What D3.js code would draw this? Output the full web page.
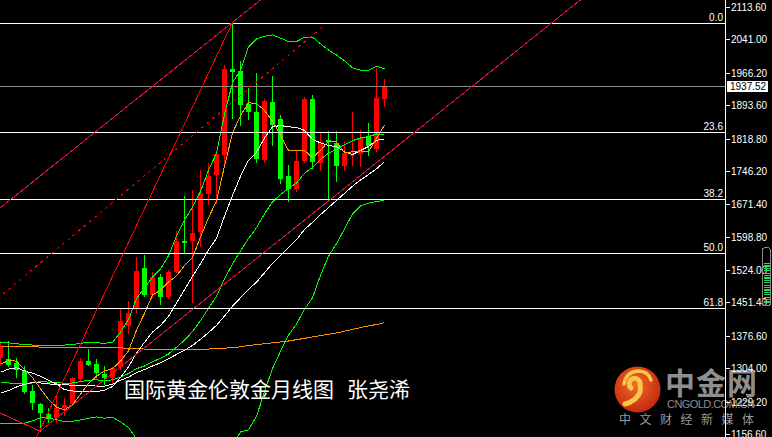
<!DOCTYPE html>
<html><head><meta charset="utf-8">
<script src="https://cdn.jsdelivr.net/npm/d3@7"></script>
<style>html,body{margin:0;padding:0;background:#000;overflow:hidden}svg{display:block}</style>
</head><body>
<svg id="c" width="772" height="437"></svg>
<script>
// ---- data (monthly XAUUSD, Mar 2018 .. Mar 2022) ----
const months = ["2018-03","2018-04","2018-05","2018-06","2018-07","2018-08","2018-09","2018-10","2018-11","2018-12",
"2019-01","2019-02","2019-03","2019-04","2019-05","2019-06","2019-07","2019-08","2019-09","2019-10","2019-11","2019-12",
"2020-01","2020-02","2020-03","2020-04","2020-05","2020-06","2020-07","2020-08","2020-09","2020-10","2020-11","2020-12",
"2021-01","2021-02","2021-03","2021-04","2021-05","2021-06","2021-07","2021-08","2021-09","2021-10","2021-11","2021-12",
"2022-01","2022-02","2022-03"];
const open  = [1327,1325,1315,1298,1252,1223,1202,1192,1215,1222,1281,1321,1313,1292,1283,1305,1398,1436,1528,1467,1508,1464,1520,1589,1588,1609,1694,1736,1782,1974,1970,1897,1878,1772,1900,1862,1735,1706,1767,1907,1764,1815,1809,1758,1779,1786,1824,1795,1909];
const high  = [1366,1366,1327,1309,1266,1225,1214,1243,1238,1285,1326,1347,1325,1310,1306,1439,1455,1553,1557,1519,1516,1525,1611,1689,1703,1748,1765,1789,1984,2077,1992,1933,1966,1907,1960,1872,1759,1790,1913,1917,1834,1836,1836,1810,1878,1838,1853,1976,1952];
const low   = [1310,1306,1283,1246,1211,1160,1181,1182,1196,1221,1276,1310,1281,1266,1267,1301,1380,1427,1464,1461,1445,1459,1517,1563,1451,1576,1670,1671,1757,1863,1848,1860,1764,1765,1803,1717,1677,1698,1765,1750,1745,1683,1722,1745,1757,1754,1780,1789,1890];
const close = [1354,1312,1300,1252,1224,1202,1192,1215,1222,1281,1321,1313,1292,1283,1305,1409,1427,1522,1468,1508,1464,1520,1589,1585,1607,1696,1735,1784,1975,1968,1893,1879,1772,1904,1849,1728,1706,1768,1907,1766,1812,1811,1758,1787,1782,1821,1801,1910,1937.52];

// indicator lines
const ma5   = [1313,1321,1320,1301,1283,1258,1234,1217,1211,1222,1246,1270,1286,1298,1303,1320,1343,1389,1427,1468,1479,1497,1511,1534,1552,1598,1641,1679,1757,1831,1870,1899,1897,1882,1858,1826,1792,1791,1792,1776,1792,1813,1811,1787,1789,1791,1789,1819,1849];
const ma10  = [1295,1302,1305,1298,1293,1286,1277,1269,1256,1253,1252,1252,1251,1255,1263,1283,1307,1338,1362,1385,1400,1420,1450,1480,1510,1538,1569,1595,1645,1691,1734,1770,1788,1820,1845,1848,1845,1844,1837,1817,1809,1803,1801,1789,1783,1792,1801,1815,1818];
const ma30  = [1248,1254,1262,1268,1272,1271,1269,1267,1267,1266,1265,1265,1264,1264,1268,1277,1284,1294,1301,1309,1316,1325,1335,1344,1355,1369,1384,1400,1421,1443,1462,1481,1497,1518,1539,1557,1574,1592,1615,1631,1648,1664,1680,1696,1712,1726,1738,1751,1767];
const maLong= [1353,1353,1352.5,1352,1352,1351.5,1351.5,1351,1351,1350.5,1350.5,1350.5,1350,1350,1350,1349.5,1349,1348,1347,1346,1345.5,1345,1345,1345.5,1346,1346.5,1347,1348,1349,1350,1352,1355,1357,1359,1361,1363,1365,1368,1371,1374,1377,1380,1383,1387,1391,1395,1399,1402,1406];
const bbMid = [1271,1271,1270,1269,1271,1274,1273,1272,1270,1271,1274,1277,1278,1276,1278,1284,1292,1303,1309,1319,1326,1336,1351,1367,1386,1411,1438,1466,1504,1538,1567,1595,1619,1650,1677,1693,1707,1719,1741,1754,1772,1786,1795,1805,1814,1820,1823,1829,1828];
const bbUp  = [1362,1361,1359,1357,1356,1355,1354,1355,1356,1357,1360,1362,1361,1360,1362,1385,1413,1460,1484,1508,1526,1556,1600,1636,1665,1700,1748,1786,1873,1944,1972,2024,2042,2048,2051,2044,2036,2036,2046,2046,2031,2017,2006,1993,1977,1972,1972,1981,1975];
const bbLow = [1180,1181,1181,1181,1186,1193,1192,1189,1184,1185,1188,1192,1195,1192,1194,1184,1171,1146,1134,1130,1126,1116,1101,1099,1107,1122,1128,1146,1135,1132,1161,1166,1196,1252,1303,1342,1378,1403,1436,1462,1512,1555,1583,1616,1650,1668,1674,1678,1680];

const priceTicks = [2113.60,2041.00,1966.20,1893.60,1818.80,1746.20,1671.40,1598.80,1524.00,1451.40,1376.60,1304.00,1229.20,1156.60];
const fibLevels = [0, 23.6, 38.2, 50.0, 61.8];
const fibLabels = ["0.0","23.6","38.2","50.0","61.8"];
const fibHigh = 2077, fibLow = 1046;
const lastPrice = 1937.52;
// trend lines: [barIndex, price] anchors
const trendLines = [
  {a:[0,1663],     b:[29.06,2079], from:-5, to:40,   color:"#dc143c", dash:null},
  {a:[4,1128],     b:[29.06,2079], from:3,  to:29.06,color:"#ff0000", dash:null},
  {a:[0,1464.4],   b:[40.6,2073.3],from:-5, to:40.6, color:"#ff0000", dash:"3,4"},
  {a:[5,1163],     b:[53.75,1860.4],from:5, to:80,   color:"#dc143c", dash:null},
  {a:[0,1203.7],   b:[5,1163],     from:-3, to:5,    color:"#ff1020", dash:null}
];
const titleParts = ["国际黄金伦敦金月线图", "张尧浠"];

// ---- drawing ----
const svg = d3.select("#c");
const plotW = 725, H = 437;
const x = d3.scaleLinear().domain([0, 90.625]).range([0, plotW]);
const y = d3.scaleLinear().domain([1156.6, 2113.6]).range([434, 7]);

svg.append("rect").attr("width",772).attr("height",H).attr("fill","#000");
const defs = svg.append("defs");
defs.append("clipPath").attr("id","plot").append("rect").attr("x",0).attr("y",0).attr("width",plotW).attr("height",H);
const g = svg.append("g").attr("clip-path","url(#plot)");

// candles
const idx = d3.range(close.length);
const up = i => close[i] >= open[i];
const cg = g.append("g").attr("shape-rendering","crispEdges");
cg.selectAll("line.w").data(idx).join("line")
  .attr("x1",i=>Math.round(x(i))+0.5).attr("x2",i=>Math.round(x(i))+0.5)
  .attr("y1",i=>y(high[i])).attr("y2",i=>y(low[i]))
  .attr("stroke",i=>up(i)?"#ff0000":"#00ff00").attr("stroke-width",1);
cg.selectAll("rect.b").data(idx).join("rect")
  .attr("x",i=>Math.round(x(i))-2).attr("width",5)
  .attr("y",i=>Math.round(y(Math.max(open[i],close[i]))))
  .attr("height",i=>Math.max(1,Math.round(Math.abs(y(open[i])-y(close[i])))))
  .attr("fill",i=>up(i)?"#ff0000":"#00ff00");

// indicator lines
const lineGen = arr => d3.line().x((d,i)=>Math.round(x(i))+0.5).y(d=>y(d))(arr);
const ind = [
  {d:maLong,c:"#ff8c00"},
  {d:bbUp,c:"#00ff00"},{d:bbMid,c:"#00ff00"},{d:bbLow,c:"#00ff00"},
  {d:ma30,c:"#ffffff"},{d:ma10,c:"#ffffff"},
  {d:ma5,c:"#ffa500"}
];
g.append("g").selectAll("path").data(ind).join("path")
  .attr("d",s=>lineGen(s.d)).attr("fill","none").attr("stroke",s=>s.c).attr("stroke-width",1)
  .attr("shape-rendering","crispEdges");

// fib levels + current price line
const fg = g.append("g").attr("shape-rendering","crispEdges");
const fibPrice = l => fibHigh - (fibHigh - fibLow) * l / 100;
fg.append("line").attr("x1",0).attr("x2",plotW)
  .attr("y1",Math.round(y(lastPrice))+0.5).attr("y2",Math.round(y(lastPrice))+0.5)
  .attr("stroke","#8c8c8c").attr("stroke-width",1);
fg.selectAll("line.f").data(fibLevels).join("line")
  .attr("x1",0).attr("x2",plotW)
  .attr("y1",l=>Math.round(y(fibPrice(l)))+0.5).attr("y2",l=>Math.round(y(fibPrice(l)))+0.5)
  .attr("stroke","#ffffff").attr("stroke-width",1.4);

// trend lines
const tl = g.append("g").attr("shape-rendering","crispEdges");
trendLines.forEach(t=>{
  const k = (t.b[1]-t.a[1])/(t.b[0]-t.a[0]);
  const p = i => t.a[1] + k*(i - t.a[0]);
  tl.append("line").attr("x1",x(t.from)).attr("y1",y(p(t.from)))
    .attr("x2",x(t.to)).attr("y2",y(p(t.to)))
    .attr("stroke",t.color).attr("stroke-width",1)
    .attr("stroke-dasharray",t.dash);
});

// fib labels
svg.append("g").selectAll("text").data(fibLevels).join("text")
  .attr("x",723).attr("y",l=>Math.round(y(fibPrice(l)))-2)
  .attr("text-anchor","end").attr("fill","#ffffff")
  .attr("font-family","'Liberation Sans',Arial,sans-serif").attr("font-size",10)
  .text((l,i)=>fibLabels[i]);

// title
const tt = svg.append("text").attr("y",397).attr("fill","#ffffff")
  .attr("font-family","'Noto Sans CJK SC',sans-serif").attr("font-size",21);
tt.append("tspan").attr("x",124).text(titleParts[0]);
tt.append("tspan").attr("x",347).text(titleParts[1]);

// watermark logo
const wm = svg.append("g");
const grad = defs.append("radialGradient").attr("id","lg").attr("cx","45%").attr("cy","40%").attr("r","60%");
grad.append("stop").attr("offset","0%").attr("stop-color","#f26a24");
grad.append("stop").attr("offset","100%").attr("stop-color","#c42a10");
wm.append("circle").attr("cx",637.5).attr("cy",389.5).attr("r",23).attr("fill","url(#lg)");
wm.append("path").attr("d","M 631 388 a 5.5 5.5 0 1 1 9 -3 q 2 8 -5 14 q -5 4 -10 5")
  .attr("fill","none").attr("stroke","#f7c64a").attr("stroke-width",5).attr("stroke-linecap","round");
wm.append("path").attr("d","M 624 384 q 2 -12 14 -13 q 10 0 13 9")
  .attr("fill","none").attr("stroke","#f7c64a").attr("stroke-width",3.5).attr("stroke-linecap","round");
wm.append("text").attr("x",665).attr("y",394).attr("fill","#8e8e8e")
  .attr("font-family","'Noto Sans CJK SC',sans-serif").attr("font-weight","bold").attr("font-size",30)
  .attr("textLength",92).text("中金网");
wm.append("text").attr("x",667).attr("y",408).attr("fill","#8e8e8e")
  .attr("font-family","'Liberation Sans',Arial,sans-serif").attr("font-size",11)
  .attr("textLength",88).text("CNGOLD.COM.CN");
wm.append("text").attr("x",619).attr("y",424).attr("fill","#9a9a9a")
  .attr("font-family","'Noto Sans CJK SC',sans-serif").attr("font-size",12)
  .attr("textLength",135).text("中文财经新媒体");

// right axis
const ax = svg.append("g").attr("shape-rendering","crispEdges");
ax.append("line").attr("x1",725.5).attr("x2",725.5).attr("y1",0).attr("y2",H).attr("stroke","#ffffff");
ax.selectAll("line.t").data(priceTicks).join("line")
  .attr("x1",726).attr("x2",730).attr("y1",d=>Math.round(y(d))+0.5).attr("y2",d=>Math.round(y(d))+0.5)
  .attr("stroke","#ffffff");
svg.append("g").selectAll("text").data(priceTicks).join("text")
  .attr("x",731).attr("y",d=>y(d)+4).attr("fill","#ffffff")
  .attr("font-family","'Liberation Sans',Arial,sans-serif").attr("font-size",10)
  .text(d=>d.toFixed(2));
// current price tag
const py = Math.round(y(lastPrice));
svg.append("rect").attr("x",727).attr("y",py-5).attr("width",41).attr("height",11).attr("fill","#ffffff")
  .attr("shape-rendering","crispEdges");
svg.append("text").attr("x",730).attr("y",py+4).attr("fill","#000")
  .attr("font-family","'Liberation Sans',Arial,sans-serif").attr("font-size",10)
  .text(lastPrice.toFixed(2));

// scroll widget at right edge
const sw = svg.append("g").attr("shape-rendering","crispEdges");
sw.append("rect").attr("x",762.5).attr("y",247.5).attr("width",8).attr("height",58).attr("rx",3)
  .attr("fill","none").attr("stroke","#8a8a8a");
sw.selectAll("rect.s").data(d3.range(17)).join("rect")
  .attr("x",764).attr("y",k=>263+k*2.4).attr("width",6).attr("height",1.2).attr("fill","#22e05a");
</script>
</body></html>
